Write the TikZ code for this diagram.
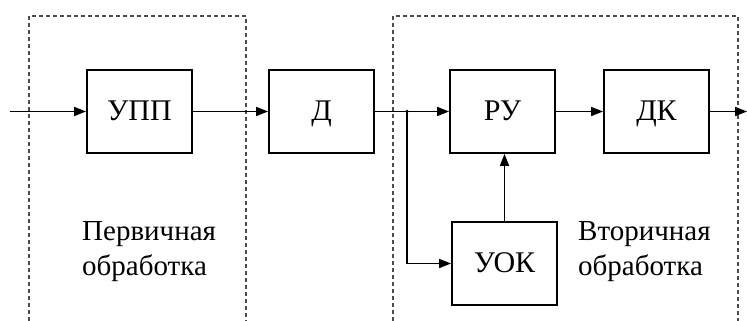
\documentclass[tikz,border=0pt]{standalone}
\usepackage{fontspec}
\setmainfont{Liberation Serif}
\newfontfamily\serifcyr{Liberation Serif}
\usetikzlibrary{arrows.meta}
\begin{document}
\begin{tikzpicture}[x=1pt,y=-1pt,
  blk/.style={draw,line width=1.8pt,minimum width=105pt,minimum height=83pt,inner sep=0pt,text height=19pt,text depth=2pt,font=\serifcyr\fontsize{30}{30}\selectfont},
  lbl/.style={align=left,font=\serifcyr\fontsize{29}{35}\selectfont,inner sep=0pt,anchor=north west},
  conn/.style={line width=1.7pt,-{Triangle[length=12pt,width=9pt]}},
  frame/.style={line width=1.2pt,dash pattern=on 4pt off 3pt,gray!60!black}]
\useasboundingbox (0,0) rectangle (747,321);
\draw[frame] (29,321) -- (29,16) -- (246,16) -- (246,321);
\draw[frame] (393,321) -- (393,16) -- (738,16) -- (738,321);
\node[blk] (upp) at (139.5,111.5) {УПП};
\node[blk] (d) at (321.5,111.5) {Д};
\node[blk] (ru) at (502.5,111.5) {РУ};
\node[blk] (dk) at (656.5,111.5) {ДК};
\node[blk] (uok) at (504.5,263.5) {УОК};
\coordinate (in) at (10,111.5);
\coordinate (out) at (747,111.5);
\coordinate (j) at (407,111.5);
\draw[conn] (in) -- (upp);
\draw[conn] (upp) -- (d);
\draw[line width=1.7pt] (d) -- (j);
\draw[conn] (j) -- (ru);
\draw[conn] (ru) -- (dk);
\draw[conn] (j) |- (uok);
\draw[conn] (uok.north) -- (ru.south -| uok.north);
\draw[conn] (dk) -- (out);
\fill (j) circle (1.8pt);
\node[lbl] (t1) at (82,221) {Первичная\\обработка};
\node[lbl] (t2) at (578,221) {Вторичная\\обработка};
\end{tikzpicture}
\end{document}
